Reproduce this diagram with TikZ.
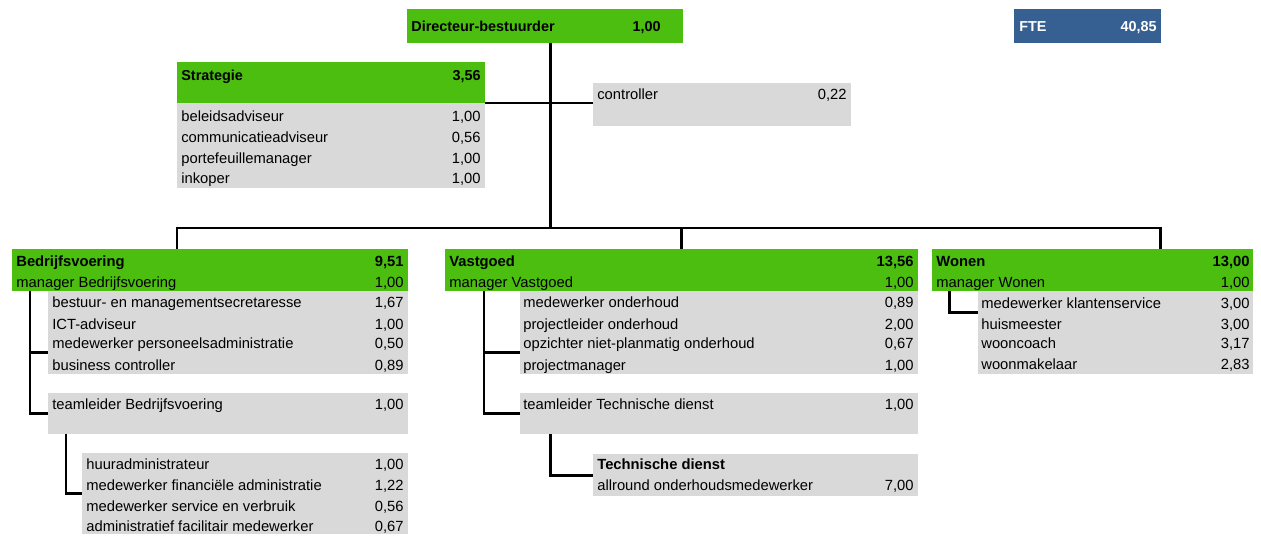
\documentclass[tikz,border=0pt]{standalone}
\usepackage{fontspec}
\setmainfont{Liberation Sans}
\usepackage{tikz}

\definecolor{orggreen}{RGB}{75,190,16}
\definecolor{orggrey}{RGB}{217,217,217}
\definecolor{fteblue}{RGB}{54,96,146}
\def\px{0.02cm}

\tikzset{
  box/.style={anchor=north west, inner sep=0pt, outer sep=0pt},
  txt/.style={anchor=west, inner sep=0pt, text height=6pt, text depth=1.7pt, yshift=-1.1pt,
    font=\fontsize{8.4}{10}\selectfont},
  num/.style={txt, anchor=east},
  conn/.style={line width=1.7pt},
}

\begin{document}
\begin{tikzpicture}[x=\px, y=-\px]
    \useasboundingbox (0,0) rectangle (1261,538);
    % boxes
    \node[box, fill=orggreen, minimum width=276*\px, minimum height=34*\px] (dir) at (407,9) {};
    \node[box, fill=fteblue, minimum width=147*\px, minimum height=34*\px] (fte) at (1014,9) {};
    \node[box, fill=orggreen, minimum width=308*\px, minimum height=41*\px] (strat) at (177,62) {};
    \node[box, fill=orggrey, minimum width=308*\px, minimum height=85*\px] (stratrows) at (177,103) {};
    \node[box, fill=orggrey, minimum width=258*\px, minimum height=43*\px] (ctrl) at (593,83) {};
    \node[box, fill=orggreen, minimum width=396*\px, minimum height=42*\px] (bv) at (12,249) {};
    \node[box, fill=orggrey, minimum width=360*\px, minimum height=83*\px] (bvrows) at (48,291) {};
    \node[box, fill=orggrey, minimum width=360*\px, minimum height=41*\px] (bvtl) at (48,393) {};
    \node[box, fill=orggrey, minimum width=326*\px, minimum height=81*\px] (bvsub) at (82,453) {};
    \node[box, fill=orggreen, minimum width=473*\px, minimum height=42*\px] (vg) at (445,249) {};
    \node[box, fill=orggrey, minimum width=398*\px, minimum height=83*\px] (vgrows) at (520,291) {};
    \node[box, fill=orggrey, minimum width=398*\px, minimum height=41*\px] (vgtl) at (520,393) {};
    \node[box, fill=orggrey, minimum width=325*\px, minimum height=42*\px] (td) at (593,454) {};
    \node[box, fill=orggreen, minimum width=321*\px, minimum height=42*\px] (wo) at (932,249) {};
    \node[box, fill=orggrey, minimum width=275*\px, minimum height=83*\px] (worows) at (978,291) {};

    % top
    \node[txt, font=\fontsize{8.2}{10}\selectfont\bfseries] (dir-t) at (411,26) {Directeur-bestuurder};
    \node[num, font=\fontsize{8.2}{10}\selectfont\bfseries] (dir-v) at (661,26) {1,00};
    \node[txt, font=\fontsize{8.2}{10}\selectfont\bfseries, text=white] (fte-t) at (1019,26) {FTE};
    \node[num, font=\fontsize{8.2}{10}\selectfont\bfseries, text=white] (fte-v) at (1157,26) {40,85};
    \node[txt, font=\fontsize{8.2}{10}\selectfont\bfseries] (strat-t) at (181,75) {Strategie};
    \node[num, font=\fontsize{8.2}{10}\selectfont\bfseries] (strat-v) at (481,75) {3,56};
    \foreach \lbl/\val/\y [count=\i] in {beleidsadviseur/{1,00}/116, communicatieadviseur/{0,56}/137,
        portefeuillemanager/{1,00}/158, inkoper/{1,00}/178}
    {
        \node[txt] (sr-\i) at (181,\y) {\lbl};
        \node[num] (srv-\i) at (481,\y) {\val};
    }
    \node[txt] (ctrl-t) at (597,94) {controller};
    \node[num] (ctrl-v) at (847,94) {0,22};

    % Bedrijfsvoering
    \node[txt, font=\fontsize{8.4}{10}\selectfont\bfseries] (bv-t) at (16,261) {Bedrijfsvoering};
    \node[num, font=\fontsize{8.4}{10}\selectfont\bfseries] (bv-v) at (404,261) {9,51};
    \node[txt] (bvm-t) at (16,282) {manager Bedrijfsvoering};
    \node[num] (bvm-v) at (404,282) {1,00};
    \foreach \lbl/\val/\y [count=\i] in {bestuur- en managementsecretaresse/{1,67}/302, ICT-adviseur/{1,00}/324,
        medewerker personeelsadministratie/{0,50}/343, business controller/{0,89}/365,
        teamleider Bedrijfsvoering/{1,00}/404}
    {
        \node[txt] (bvr-\i) at (52,\y) {\lbl};
        \node[num] (bvrv-\i) at (404,\y) {\val};
    }
    \foreach \lbl/\val/\y [count=\i] in {huuradministrateur/{1,00}/464, medewerker financiële administratie/{1,22}/485,
        medewerker service en verbruik/{0,56}/506, administratief facilitair medewerker/{0,67}/526}
    {
        \node[txt] (bvs-\i) at (86,\y) {\lbl};
        \node[num] (bvsv-\i) at (404,\y) {\val};
    }

    % Vastgoed
    \node[txt, font=\fontsize{8.4}{10}\selectfont\bfseries] (vg-t) at (449,261) {Vastgoed};
    \node[num, font=\fontsize{8.4}{10}\selectfont\bfseries] (vg-v) at (914,261) {13,56};
    \node[txt] (vgm-t) at (449,282) {manager Vastgoed};
    \node[num] (vgm-v) at (914,282) {1,00};
    \foreach \lbl/\val/\y [count=\i] in {medewerker onderhoud/{0,89}/302, projectleider onderhoud/{2,00}/324,
        opzichter niet-planmatig onderhoud/{0,67}/343, projectmanager/{1,00}/365,
        teamleider Technische dienst/{1,00}/404}
    {
        \node[txt] (vgr-\i) at (523,\y) {\lbl};
        \node[num] (vgrv-\i) at (914,\y) {\val};
    }
    \node[txt, font=\fontsize{8.4}{10}\selectfont\bfseries] (td-t) at (597,464) {Technische dienst};
    \node[txt] (tdr-t) at (597,485) {allround onderhoudsmedewerker};
    \node[num] (tdr-v) at (914,485) {7,00};

    % Wonen
    \node[txt, font=\fontsize{8.4}{10}\selectfont\bfseries] (wo-t) at (936,261) {Wonen};
    \node[num, font=\fontsize{8.4}{10}\selectfont\bfseries] (wo-v) at (1250,261) {13,00};
    \node[txt] (wom-t) at (936,282) {manager Wonen};
    \node[num] (wom-v) at (1250,282) {1,00};
    \foreach \lbl/\val/\y [count=\i] in {medewerker klantenservice/{3,00}/303, huismeester/{3,00}/324,
        wooncoach/{3,17}/343, woonmakelaar/{2,83}/364}
    {
        \node[txt] (wor-\i) at (981,\y) {\lbl};
        \node[num] (worv-\i) at (1250,\y) {\val};
    }

    % lines
    \coordinate (spine) at (550,228);
    \coordinate (busL) at (177,228);
    \coordinate (busR) at (1160,228);
    \coordinate (bvj) at (30,352);
    \coordinate (bvk) at (66,0);
    \coordinate (vgj) at (484,352);
    \coordinate (vgk) at (550,0);
    \coordinate (woj) at (949,312);
    \draw[conn] (spine |- dir.south) -- (spine);
    \draw[conn] (strat.south east) -- (strat.south east -| ctrl.west);
    \draw[conn] (busL |- bv.north) -- (busL) -- (busR) -- (busR |- wo.north);
    \draw[conn] (vg.north) -- (vg.north |- busL);
    \draw[conn] (bvj |- bv.south) |- (bvtl.west);
    \draw[conn] (bvj) -- (bvj -| bvrows.west);
    \draw[conn] (bvk |- bvtl.south) |- (bvsub.west);
    \draw[conn] (vgj |- vg.south) |- (vgtl.west);
    \draw[conn] (vgj) -- (vgj -| vgrows.west);
    \draw[conn] (vgk |- vgtl.south) |- (td.west);
    \draw[conn] (woj |- wo.south) |- (worows.west |- woj);
\end{tikzpicture}
\end{document}
